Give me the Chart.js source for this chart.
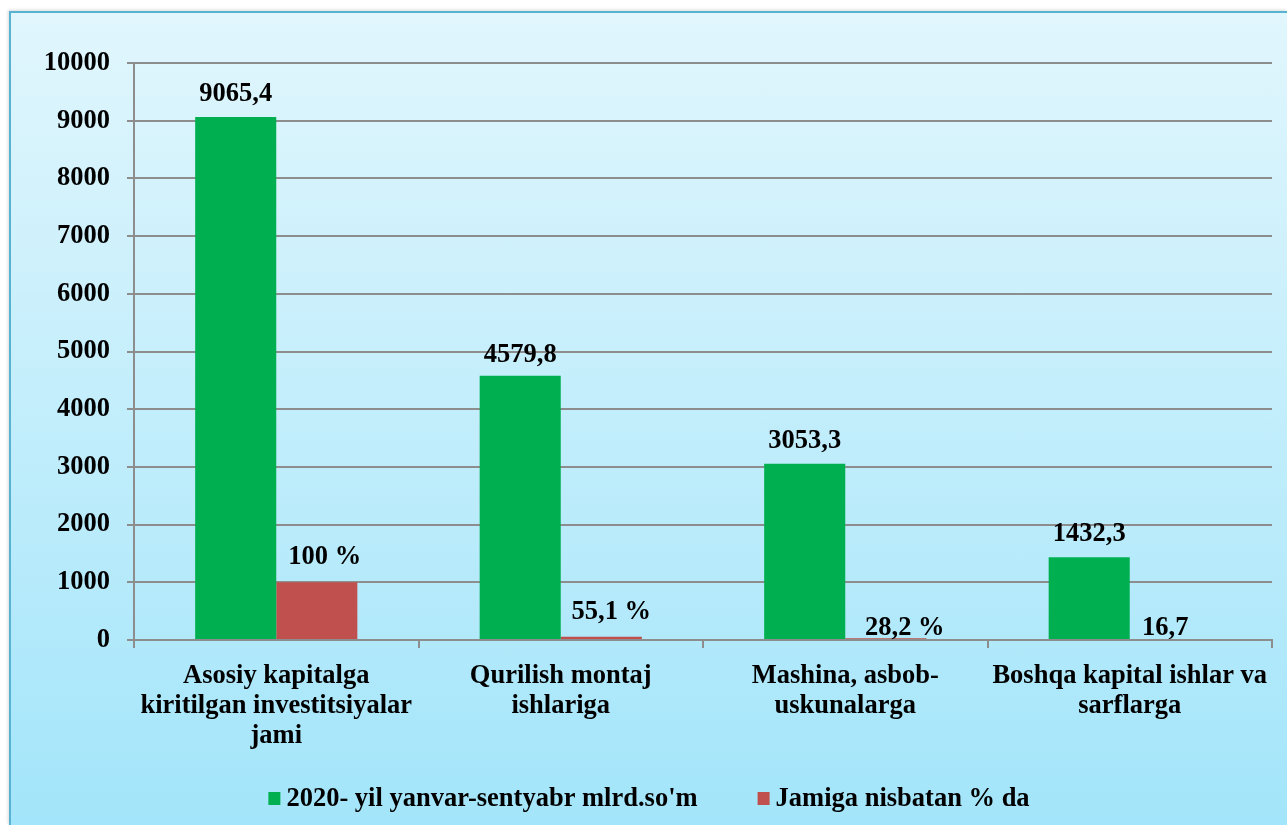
<!DOCTYPE html>
<html>
<head>
<meta charset="utf-8">
<script src="https://cdn.jsdelivr.net/npm/chart.js@4"></script>
<style>
  body { margin: 0; background: #ffffff; }
  #frame {
    position: absolute; left: 9px; top: 11px;
    width: 1276px; height: 812px;
    border-left: 2px solid #57b3cf; border-top: 2px solid #57b3cf;
    background: linear-gradient(#e1f6fd, #a3e5fa);
    box-shadow: -1px -1px 3px rgba(0,0,0,0.15);
  }
  canvas { display: block; }
</style>
</head>
<body>
<div id="frame"><canvas id="chart" width="1276" height="812"></canvas></div>
<script>
// categories (split into lines as in the picture)
const categories = [
    ["Asosiy kapitalga", "kiritilgan investitsiyalar", "jami"],
    ["Qurilish montaj", "ishlariga"],
    ["Mashina, asbob-", "uskunalarga"],
    ["Boshqa kapital ishlar va", "sarflarga"]
];
const seriesNames = ["2020- yil yanvar-sentyabr mlrd.so'm", "Jamiga nisbatan % da"];
const greenValues = [9065.4, 4579.8, 3053.3, 1432.3];
const redValues = [1000, 55.1, 28.2, 16.7];   // first bar drawn at 1000 in the source
const greenLabels = ["9065,4", "4579,8", "3053,3", "1432,3"];
const redLabels = ["100 %", "55,1 %", "28,2 %", "16,7"];
const yTicks = [0, 1000, 2000, 3000, 4000, 5000, 6000, 7000, 8000, 9000, 10000];

const FONT = "'Liberation Serif', 'Times New Roman', serif";
const SIZE = 26.5;
const gridColor = "#8d8d8d";

// value labels above bars
const valueLabels = {
    id: "valueLabels",
    afterDatasetsDraw(chart, args, opts) {
        const ctx = chart.ctx;
        ctx.save();
        ctx.font = `bold ${SIZE}px ${FONT}`;
        ctx.fillStyle = "#000";
        ctx.textAlign = "center";
        ctx.textBaseline = "middle";
        chart.data.datasets.forEach((ds, di) => {
            const meta = chart.getDatasetMeta(di);
            meta.data.forEach((bar, i) => {
                const n = opts.nudge[di][i];
                ctx.fillText(opts.texts[di][i], bar.x + n[0], bar.y - 23 + n[1]);
            });
        });
        ctx.restore();
    }
};

// legend drawn under the axis, wide gap between items
const bottomLegend = {
    id: "bottomLegend",
    afterDraw(chart, args, opts) {
        const ctx = chart.ctx;
        ctx.save();
        ctx.font = `bold ${SIZE}px ${FONT}`;
        ctx.textBaseline = "middle";
        ctx.textAlign = "left";
        const box = 12, gap = 6, itemGap = 60;
        const items = chart.data.datasets.map(d => ({ text: d.label, color: d.backgroundColor }));
        let total = 0;
        items.forEach((it, i) => {
            it.w = ctx.measureText(it.text).width;
            total += box + gap + it.w + (i ? itemGap : 0);
        });
        let x = (chart.width - total) / 2;
        const y = opts.y;
        items.forEach((it, i) => {
            if (i) x += itemGap;
            ctx.fillStyle = it.color;
            ctx.fillRect(x, y - 6, box, 13);
            x += box + gap;
            ctx.fillStyle = "#000";
            ctx.fillText(it.text, x, y + 1);
            x += it.w;
        });
        ctx.restore();
    }
};

new Chart(document.getElementById("chart"), {
    type: "bar",
    data: {
        labels: categories,
        datasets: [
            { label: seriesNames[0], data: greenValues, backgroundColor: "#00b050" },
            { label: seriesNames[1], data: redValues, backgroundColor: "#c0504d" }
        ]
    },
    options: {
        responsive: false,
        animation: false,
        layout: { padding: { left: 0, top: 50, right: 15, bottom: 47 } },
        datasets: { bar: { categoryPercentage: 0.57, barPercentage: 1.0 } },
        plugins: {
            legend: { display: false },
            tooltip: { enabled: false },
            valueLabels: {
                texts: [greenLabels, redLabels],
                nudge: [
                    [[0, 0], [0, 2], [0, 0], [0, 0]],
                    [[8, -2], [10, -2], [19, 13], [-5, 12]]
                ]
            },
            bottomLegend: { y: 785 }
        },
        scales: {
            x: {
                afterFit(s) { s.height = 138; },
                grid: {
                    offset: true, drawOnChartArea: false, drawTicks: true,
                    tickLength: 8, color: gridColor, lineWidth: 2
                },
                border: { color: gridColor, width: 2 },
                ticks: {
                    color: "#000", padding: 13,
                    font: { family: FONT, size: SIZE, weight: "bold", lineHeight: 1.13 }
                }
            },
            y: {
                min: 0, max: 10000,
                afterFit(s) { s.width = 123; },
                afterBuildTicks(s) { s.ticks = yTicks.map(v => ({ value: v })); },
                grid: { color: gridColor, lineWidth: 2, tickLength: 7 },
                border: { color: gridColor, width: 2 },
                ticks: {
                    color: "#000", padding: 17,
                    callback: v => String(v),
                    font: { family: FONT, size: SIZE, weight: "bold" }
                }
            }
        }
    },
    plugins: [valueLabels, bottomLegend]
});
</script>
</body>
</html>
